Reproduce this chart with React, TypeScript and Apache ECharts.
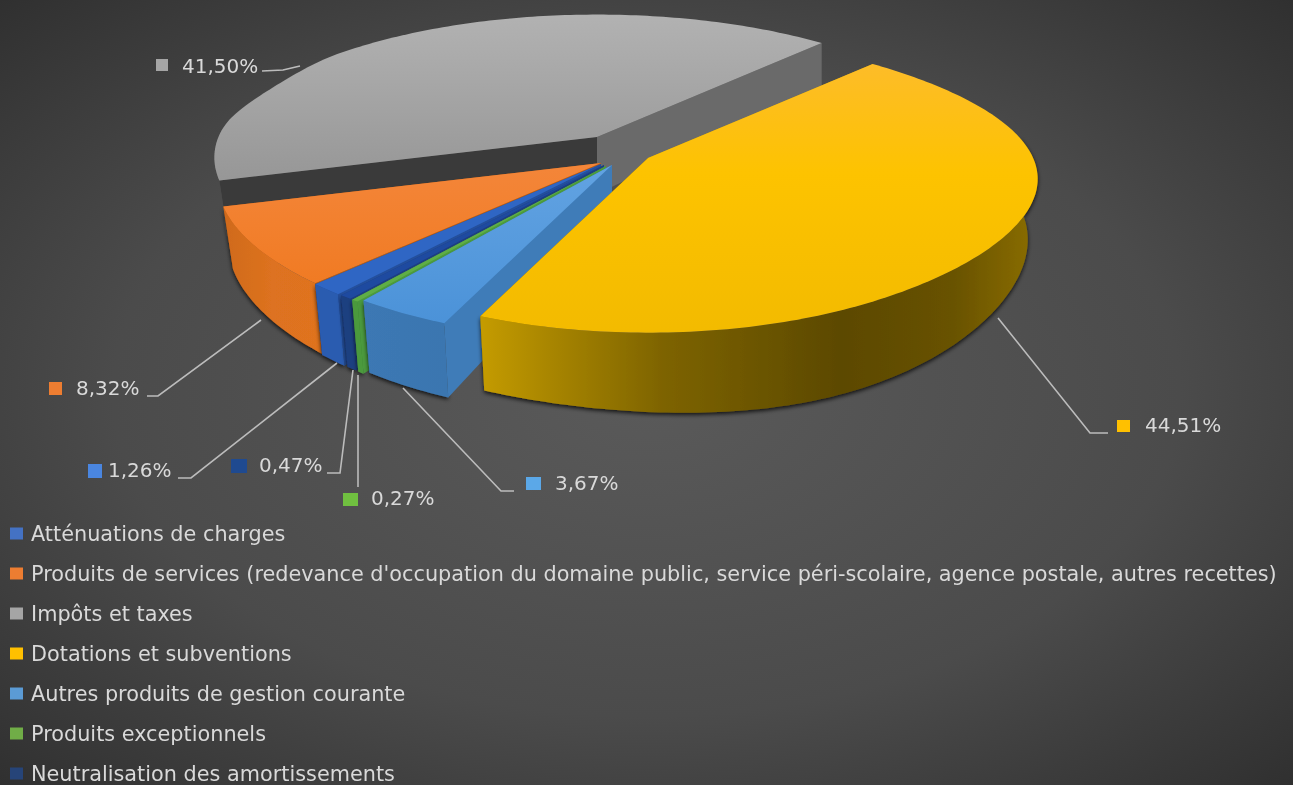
import React, { useEffect, useRef } from "react";
import * as echarts from "echarts";

const categories = [
  "Atténuations de charges",
  "Produits de services (redevance d'occupation du domaine public, service péri-scolaire, agence postale, autres recettes)",
  "Impôts et taxes",
  "Dotations et subventions",
  "Autres produits de gestion courante",
  "Produits exceptionnels",
  "Neutralisation des amortissements",
];
const values = [1.26, 8.32, 41.5, 44.51, 3.67, 0.27, 0.47];

const legendColors = ["#4472c4", "#ed7d31", "#a5a5a5", "#ffc000", "#5b9bd5", "#70ad47", "#264478"];

// Order in which slices are painted, back to front (indexes into the arrays above).
const paintOrder = [2, 1, 0, 6, 5, 4, 3];

// Rotation of the first slice, clockwise from "away from the viewer".
const FIRST_ANGLE = 219.1;

// Projection of the tilted disc.
const RADIUS = 364;
const TILT = 0.405;
const PERSPECTIVE = 0.156;
const THICKNESS = 57;
const THICKNESS_PERSPECTIVE = 0.33;
const SIDE_BULGE = 0.04;
const WALL_LEAN = 10;
const YELLOW = 3;

// Apex of each exploded slice on the page.
const apexes: number[][] = [
  [601, 164], [601, 163], [597, 137], [648, 158], [612, 165], [606, 166], [604, 165],
];

type Look = { top: any; wall: any; sideEnd: string; sideStart: string; shadow: boolean };
const grad = (x: number, y: number, x2: number, y2: number, stops: [number, string][]) => ({
  type: "linear", x, y, x2, y2, global: true,
  colorStops: stops.map(([offset, color]) => ({ offset, color })),
});
const looks: Look[] = [
  { top: "#2f66c4", wall: "#2a5bb0", sideEnd: "#244f9c", sideStart: "#244f9c", shadow: true },
  { top: grad(0, 160, 0, 290, [[0, "#f4863a"], [1, "#f07a22"]]),
    wall: grad(222, 0, 322, 0, [[0, "#cf6a1a"], [0.5, "#dd7220"], [1, "#e0731f"]]), sideEnd: "#b85c14", sideStart: "#b85c14", shadow: true },
  { top: grad(0, 14, 0, 185, [[0, "#b2b2b2"], [1, "#969696"]]),
    wall: "#5c5c5c", sideEnd: "#6a6a6a", sideStart: "#3a3a3a", shadow: false },
  { top: grad(0, 60, 0, 345, [[0, "#fdbc2a"], [0.4, "#fdc300"], [1, "#f2ba00"]]),
    wall: grad(482, 0, 1035, 0, [[0, "#c49b00"], [0.12, "#a98600"], [0.33, "#7d6300"], [0.65, "#5c4900"], [0.85, "#685200"], [1, "#8a6d00"]]),
    sideEnd: "#8a6d00", sideStart: "#c49b00", shadow: true },
  { top: grad(0, 165, 0, 325, [[0, "#62a3e2"], [1, "#4b92d8"]]),
    wall: grad(357, 0, 447, 0, [[0, "#3c78b4"], [1, "#3a76b0"]]), sideEnd: "#3f7cb8", sideStart: "#3f7cb8", shadow: true },
  { top: "#5fae46", wall: "#4b9a3e", sideEnd: "#4b9a3e", sideStart: "#4b9a3e", shadow: true },
  { top: "#1e4aa0", wall: "#1e3f80", sideEnd: "#1e3f80", sideStart: "#1e3f80", shadow: true },
];

// Where each percentage label and its leader line sit: marker x/y/w/h, text x/y, leader points.
const labelLayout: { marker: number[]; text: number[]; leader: number[][] }[] = [
  { marker: [88, 464, 14, 14], text: [108, 470], leader: [[178, 478], [191, 478], [337, 363]] },
  { marker: [49, 382, 13, 13], text: [76, 388], leader: [[147, 396], [158, 396], [261, 320]] },
  { marker: [156, 59, 12, 12], text: [182, 66], leader: [[262, 71], [283, 70], [300, 66]] },
  { marker: [1117, 420, 13, 12], text: [1145, 425], leader: [[1108, 433], [1090, 433], [998, 318]] },
  { marker: [526, 477, 15, 13], text: [555, 483], leader: [[514, 491], [501, 491], [403, 388]] },
  { marker: [343, 493, 15, 13], text: [371, 498], leader: [[358, 487], [358, 375]] },
  { marker: [231, 459, 16, 14], text: [259, 465], leader: [[327, 473], [340, 473], [353, 370]] },
];
const markerColors = ["#4a86e0", "#ed7d31", "#a5a5a5", "#ffc000", "#5ba8e8", "#70c040", "#1f4a90"];

const percentText = (v: number) => v.toFixed(2).replace(".", ",") + "%";

function sliceAngles(index: number) {
  const total = values.reduce((a, b) => a + b, 0);
  const before = values.slice(0, index).reduce((a, b) => a + b, 0);
  const start = FIRST_ANGLE + (before / total) * 360;
  const end = start + (values[index] / total) * 360;
  return [start, end];
}

function hump(deg: number, from: number, to: number) {
  const d = ((deg % 360) + 360) % 360;
  if (d <= from || d >= to) return 0;
  const s = Math.sin((Math.PI * (d - from)) / (to - from));
  return s * s;
}

function project(index: number, deg: number) {
  const apex = apexes[index];
  const t = (deg * Math.PI) / 180;
  const s = Math.sin(t);
  const c = Math.cos(t);
  const m = index === YELLOW ? 1 + 0.018 * hump(deg, 43, 150) : 1;
  const X = s * (1 + SIDE_BULGE * s * s * s * s) * m;
  const Y = c * m;
  const w = 1 + PERSPECTIVE * Y;
  let flatten = 1;
  if (c > 0) flatten -= 0.04 * c;
  flatten -= 0.1 * hump(deg, 262, 310);
  return [apex[0] + (RADIUS * X) / w, apex[1] - (RADIUS * TILT * Y * flatten) / w];
}

function drop(index: number, p: number[], deg: number) {
  const t = (deg * Math.PI) / 180;
  const c = Math.cos(t);
  const extra = index === YELLOW ? 12 * hump(deg, 90, 200) : 0;
  const lean = Math.min(1, Math.max(0, (0.7 - c) / 0.4));
  return [
    p[0] - WALL_LEAN * lean * Math.sin(t),
    p[1] + THICKNESS * (1 - THICKNESS_PERSPECTIVE * c) + extra,
  ];
}

function renderSlice(index: number) {
  const [start, end] = sliceAngles(index);
  const apex = apexes[index];
  const look = looks[index];
  const rim: number[][] = [];
  const wallTop: number[][] = [];
  const wallBottom: number[][] = [];
  const steps = Math.max(2, Math.ceil(end - start));
  let firstBottom: number[] = [];
  let lastBottom: number[] = [];
  for (let i = 0; i <= steps; i++) {
    const a = start + ((end - start) * i) / steps;
    const p = project(index, a);
    const b = drop(index, p, a);
    rim.push(p);
    if (i === 0) firstBottom = b;
    if (i === steps) lastBottom = b;
    if (Math.cos((a * Math.PI) / 180) < 0.15) {
      wallTop.push(p);
      wallBottom.push(b);
    }
  }
  const apexBottom = [apex[0], apex[1] + THICKNESS];
  const first = rim[0];
  const last = rim[rim.length - 1];
  const startSide = { type: "polygon", shape: { points: [apex, apexBottom, firstBottom, first] }, style: { fill: look.sideStart } };
  const endSide = { type: "polygon", shape: { points: [apex, apexBottom, lastBottom, last] }, style: { fill: look.sideEnd } };
  const sinStart = Math.sin((start * Math.PI) / 180);
  const sinEnd = Math.sin((end * Math.PI) / 180);
  const children: any[] = [];
  if (sinStart >= 0) children.push(startSide);
  if (sinEnd <= 0) children.push(endSide);
  if (wallTop.length > 1) {
    children.push({
      type: "polygon",
      shape: { points: [...wallTop, ...wallBottom.slice().reverse()] },
      style: look.shadow
        ? { fill: look.wall, shadowBlur: 4, shadowColor: "rgba(0,0,0,0.8)", shadowOffsetY: 2 }
        : { fill: look.wall },
    });
  }
  if (sinStart < 0) children.push(startSide);
  if (sinEnd > 0) children.push(endSide);
  children.push({ type: "polygon", shape: { points: [apex, ...rim] }, style: { fill: look.top } });
  return children;
}

function renderLabel(index: number) {
  const l = labelLayout[index];
  return [
    { type: "polyline", shape: { points: l.leader }, style: { stroke: "#bcbcbc", lineWidth: 1.6, fill: "none" } },
    {
      type: "rect",
      shape: { x: l.marker[0], y: l.marker[1], width: l.marker[2], height: l.marker[3] },
      style: { fill: markerColors[index] },
    },
    {
      type: "text",
      style: {
        text: percentText(values[index]), x: l.text[0], y: l.text[1],
        fill: "#d9d9d9", font: '20px "DejaVu Sans"', textAlign: "left", textVerticalAlign: "middle",
      },
    },
  ];
}

export default function App() {
  const ref = useRef<HTMLDivElement>(null);
  useEffect(() => {
    const chart = echarts.init(ref.current!, undefined, { renderer: "svg" });
    chart.setOption({
      animation: false,
      backgroundColor: {
        type: "radial", x: 0.5, y: 0.5, r: 0.75,
        colorStops: [
          { offset: 0, color: "#5a5a5a" },
          { offset: 0.55, color: "#4b4b4b" },
          { offset: 1, color: "#2c2c2c" },
        ],
      },
      legend: {
        orient: "vertical",
        left: 5,
        top: 518,
        height: 320,
        icon: "rect",
        itemWidth: 13,
        itemHeight: 12,
        itemGap: 19,
        selectedMode: false,
        textStyle: { color: "#d9d9d9", fontFamily: "DejaVu Sans", fontSize: 20.8, padding: [0, 0, 0, 3] },
        data: categories.map((name, i) => ({ name, itemStyle: { color: legendColors[i] } })),
      },
      series: paintOrder.map((index) => ({
        type: "custom",
        name: categories[index],
        coordinateSystem: "none",
        silent: true,
        itemStyle: { color: legendColors[index] },
        data: [values[index]],
        renderItem: () => ({ type: "group", children: renderSlice(index) }),
      })).concat(values.map((_, index) => ({
        type: "custom",
        name: "label-" + index,
        coordinateSystem: "none",
        silent: true,
        z: 5,
        data: [values[index]],
        renderItem: () => ({ type: "group", children: renderLabel(index) }),
      })) as any),
    });
    return () => chart.dispose();
  }, []);
  return <div ref={ref} style={{ position: "absolute", left: 0, top: 0, width: 1293, height: 785, filter: "blur(0.4px)" }} />;
}
